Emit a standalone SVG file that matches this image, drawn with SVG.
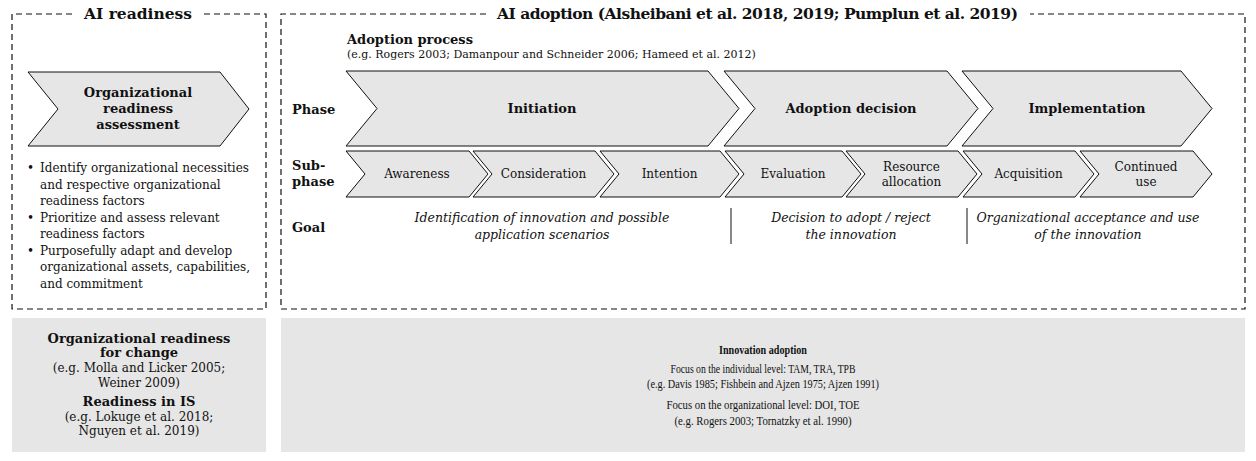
<svg xmlns="http://www.w3.org/2000/svg" width="1256" height="461" viewBox="0 0 1256 461">
  <style>
    .frame { fill: none; stroke: #111; stroke-width: 1.2; stroke-dasharray: 6 4; }
    .chev { fill: #e6e6e6; stroke: #111; stroke-width: 1; }
    .panel { fill: #e6e6e6; stroke: none; }
    .sep { stroke: #111; stroke-width: 1; }
    text { font-family: "DejaVu Serif", "Liberation Serif", serif; fill: #111; }
    .title { font-size: 15.5px; font-weight: bold; }
    .b13 { font-size: 13px; font-weight: bold; }
    .r12 { font-size: 12px; }
    .r11 { font-size: 11px; }
    .goal { font-size: 12.5px; font-style: italic; }
    .mid { text-anchor: middle; }
    .cond { font-family: "Liberation Serif", serif; font-size: 13px; }
  </style>

  <!-- AI readiness frame -->
  <g id="ai-readiness">
    <path class="frame" d="M 72 14 H 12 V 309 H 266 V 14 H 204"/>
    <text class="title mid" x="138" y="19">AI readiness</text>
  </g>

  <g id="readiness-assessment">
    <path class="chev" d="M 28 72 H 220 L 249 109 L 220 146 H 28 L 58 109 Z"/>
    <text class="b13 mid" x="138" y="97">Organizational</text>
    <text class="b13 mid" x="138" y="113">readiness</text>
    <text class="b13 mid" x="138" y="129">assessment</text>
  </g>

  <g id="readiness-steps" class="r12">
    <text x="27" y="172">•</text><text x="40" y="172">Identify organizational necessities</text>
    <text x="40" y="188.5">and respective organizational</text>
    <text x="40" y="205">readiness factors</text>
    <text x="27" y="221.5">•</text><text x="40" y="221.5">Prioritize and assess relevant</text>
    <text x="40" y="238">readiness factors</text>
    <text x="27" y="254.5">•</text><text x="40" y="254.5">Purposefully adapt and develop</text>
    <text x="40" y="271">organizational assets, capabilities,</text>
    <text x="40" y="287.5">and commitment</text>
  </g>

  <!-- AI adoption frame -->
  <g id="ai-adoption">
    <path class="frame" d="M 486 14 H 281 V 309 H 1245 V 14 H 1030"/>
    <text class="title mid" x="757.5" y="19" textLength="521" lengthAdjust="spacing">AI adoption (Alsheibani et al. 2018, 2019; Pumplun et al. 2019)</text>
    <text class="b13" x="347" y="44">Adoption process</text>
    <text class="r11" x="347" y="58">(e.g. Rogers 2003; Damanpour and Schneider 2006; Hameed et al. 2012)</text>
  </g>

  <g id="row-labels" class="b13">
    <text x="292" y="114">Phase</text>
    <text x="292" y="170">Sub-</text>
    <text x="292" y="186">phase</text>
    <text x="292" y="232">Goal</text>
  </g>

  <!-- phases -->
  <g id="phase-initiation">
    <path class="chev" d="M 346 71 H 708 L 739 108.5 L 708 146 H 346 L 377 108.5 Z"/>
    <text class="b13 mid" x="542" y="113">Initiation</text>
  </g>
  <g id="phase-decision">
    <path class="chev" d="M 724 71 H 947 L 978 108.5 L 947 146 H 724 L 755 108.5 Z"/>
    <text class="b13 mid" x="851" y="113">Adoption decision</text>
  </g>
  <g id="phase-implementation">
    <path class="chev" d="M 962 71 H 1181 L 1212 108.5 L 1181 146 H 962 L 993 108.5 Z"/>
    <text class="b13 mid" x="1087" y="113">Implementation</text>
  </g>

  <!-- sub-phases -->
  <g id="sub-awareness">
    <path class="chev" d="M 346 151 H 469 L 488 174 L 469 197 H 346 L 365 174 Z"/>
    <text class="r12 mid" x="417" y="178">Awareness</text>
  </g>
  <g id="sub-consideration">
    <path class="chev" d="M 473 151 H 595 L 614 174 L 595 197 H 473 L 492 174 Z"/>
    <text class="r12 mid" x="543.5" y="178">Consideration</text>
  </g>
  <g id="sub-intention">
    <path class="chev" d="M 600 151 H 720 L 739 174 L 720 197 H 600 L 619 174 Z"/>
    <text class="r12 mid" x="669.5" y="178">Intention</text>
  </g>
  <g id="sub-evaluation">
    <path class="chev" d="M 725 151 H 842 L 861 174 L 842 197 H 725 L 744 174 Z"/>
    <text class="r12 mid" x="793" y="178">Evaluation</text>
  </g>
  <g id="sub-resource-allocation">
    <path class="chev" d="M 846 151 H 958 L 977 174 L 958 197 H 846 L 865 174 Z"/>
    <text class="r12 mid" x="911.5" y="171">Resource</text>
    <text class="r12 mid" x="911.5" y="186">allocation</text>
  </g>
  <g id="sub-acquisition">
    <path class="chev" d="M 963 151 H 1075 L 1094 174 L 1075 197 H 963 L 982 174 Z"/>
    <text class="r12 mid" x="1028.5" y="178">Acquisition</text>
  </g>
  <g id="sub-continued-use">
    <path class="chev" d="M 1080 151 H 1193 L 1212 174 L 1193 197 H 1080 L 1099 174 Z"/>
    <text class="r12 mid" x="1146" y="171">Continued</text>
    <text class="r12 mid" x="1146" y="186">use</text>
  </g>

  <!-- goals -->
  <g id="goals">
    <text class="goal mid" x="542" y="222">Identification of innovation and possible</text>
    <text class="goal mid" x="542" y="239">application scenarios</text>
    <text class="goal mid" x="851" y="222">Decision to adopt / reject</text>
    <text class="goal mid" x="851" y="239">the innovation</text>
    <text class="goal mid" x="1088" y="222">Organizational acceptance and use</text>
    <text class="goal mid" x="1088" y="239">of the innovation</text>
  </g>
  <g id="connectors">
    <line class="sep" x1="731" y1="208" x2="731" y2="244"/>
    <line class="sep" x1="967" y1="208" x2="967" y2="244"/>
  </g>

  <!-- literature streams -->
  <g id="readiness-literature">
    <rect class="panel" x="12" y="318" width="254" height="134"/>
    <text class="b13 mid" x="139" y="343">Organizational readiness</text>
    <text class="b13 mid" x="139" y="357">for change</text>
    <text class="r12 mid" x="139" y="372">(e.g. Molla and Licker 2005;</text>
    <text class="r12 mid" x="139" y="387">Weiner 2009)</text>
    <text class="b13 mid" x="139" y="406">Readiness in IS</text>
    <text class="r12 mid" x="139" y="421">(e.g. Lokuge et al. 2018;</text>
    <text class="r12 mid" x="139" y="435">Nguyen et al. 2019)</text>
  </g>

  <g id="adoption-literature">
    <rect class="panel" x="281" y="318" width="964" height="134"/>
    <text class="cond mid" x="763" y="354" font-weight="bold" textLength="88" lengthAdjust="spacingAndGlyphs">Innovation adoption</text>
    <text class="cond mid" x="763" y="373" textLength="185" lengthAdjust="spacingAndGlyphs">Focus on the individual level: TAM, TRA, TPB</text>
    <text class="cond mid" x="763" y="388" textLength="232" lengthAdjust="spacingAndGlyphs">(e.g. Davis 1985; Fishbein and Ajzen 1975; Ajzen 1991)</text>
    <text class="cond mid" x="763" y="409" textLength="193" lengthAdjust="spacingAndGlyphs">Focus on the organizational level:  DOI, TOE</text>
    <text class="cond mid" x="763" y="425" textLength="177" lengthAdjust="spacingAndGlyphs">(e.g. Rogers 2003; Tornatzky et al. 1990)</text>
  </g>
</svg>
